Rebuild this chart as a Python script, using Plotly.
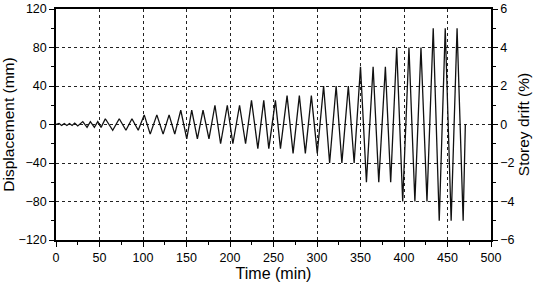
import plotly.graph_objects as go

# Loading protocol vertices
time_min = [0, 3.5, 6.5, 9.5, 12.5, 15.5, 18.5, 21.5, 25.0,
            30.8, 35.7, 39.5, 44.1, 48.0, 51.8,
            56.7, 65.2, 72.7, 80.4, 87.3, 94.5,
            101.4, 108.3, 115.9, 123.1, 130.0, 136.5,
            143.4, 150.3, 156.0, 162.5, 169.0, 175.8,
            182.7, 189.2, 196.9, 203.3, 211.0, 217.9,
            224.7, 232.0, 238.8, 244.6, 252.2, 258.0,
            265.6, 272.5, 279.7, 286.6, 293.5, 300.3,
            307.6, 314.5, 322.0, 328.6, 336.0, 342.7,
            350.0, 356.8, 364.5, 371.0, 378.6, 384.7,
            391.6, 398.5, 405.7, 412.5, 419.5, 426.4,
            433.6, 440.5, 447.4, 454.2, 461.0, 468.0,
            470.5]
disp_mm = [0, 1, -1, 1, -1, 1, -1, 1.5, -1.5,
           3, -3, 3, -3, 3, -3,
           6, -6, 6, -6, 6, -6,
           10, -10, 10, -10, 10, -10,
           15, -15, 15, -15, 15, -15,
           20, -20, 20, -20, 20, -20,
           25, -25, 25, -25, 25, -25,
           30, -30, 30, -30, 30, -30,
           40, -40, 40, -40, 40, -40,
           60, -60, 60, -60, 60, -60,
           80, -80, 80, -80, 80, -80,
           100, -100, 100, -100, 100, -100,
           0]

x_ticks = [0, 50, 100, 150, 200, 250, 300, 350, 400, 450, 500]
y_ticks = [-120, -80, -40, 0, 40, 80, 120]
drift_ticks = [-6, -4, -2, 0, 2, 4, 6]

FONT = "Liberation Sans, Arial, sans-serif"

fig = go.Figure()
fig.add_trace(go.Scatter(x=time_min, y=disp_mm, mode="lines",
                         line=dict(color="#111111", width=1.3),
                         showlegend=False, hoverinfo="skip"))

axis_common = dict(
    showline=True, linecolor="black", linewidth=1.5,
    ticks="outside", ticklen=5, tickwidth=1.2, tickcolor="black",
    tickfont=dict(family=FONT, size=12.5, color="black"),
    zeroline=False, automargin=False,
)
GRID = dict(showgrid=True, gridcolor="#222222", gridwidth=1, griddash="3px,3px")

fig.update_layout(
    width=536, height=285,
    margin=dict(l=55.5, r=44.5, t=8.5, b=44.6),
    paper_bgcolor="white", plot_bgcolor="white",
    font=dict(family=FONT, color="black"),
    xaxis=dict(
        range=[0, 500], tickvals=x_ticks,
        mirror=True,
        minor=dict(dtick=25, tick0=0, ticks="outside", ticklen=3,
                   tickcolor="black", tickwidth=1, showgrid=False),
        title=dict(text="Time (min)", font=dict(family=FONT, size=16), standoff=2),
        **GRID, **axis_common,
    ),
    yaxis=dict(
        range=[-120, 120], tickvals=y_ticks,
        minor=dict(dtick=20, tick0=0, ticks="outside", ticklen=3,
                   tickcolor="black", tickwidth=1, showgrid=False),
        title=dict(text="Displacement (mm)", font=dict(family=FONT, size=15.5), standoff=4),
        **GRID, **axis_common,
    ),
    yaxis2=dict(
        range=[-6, 6], tickvals=drift_ticks, overlaying="y", side="right",
        showgrid=False,
        minor=dict(dtick=1, tick0=0, ticks="outside", ticklen=3,
                   tickcolor="black", tickwidth=1, showgrid=False),
        title=dict(text="Storey drift (%)", font=dict(family=FONT, size=15.5), standoff=4),
        **axis_common,
    ),
)

# secondary axis carries the drift scale (same record expressed in %)
fig.add_trace(go.Scatter(x=time_min, y=[d / 20 for d in disp_mm], yaxis="y2",
                         mode="lines", line=dict(color="rgba(0,0,0,0)", width=0),
                         showlegend=False, hoverinfo="skip"))

fig.write_html("out.html", config={"displayModeBar": False},
               post_script="document.body.style.margin='0';")
